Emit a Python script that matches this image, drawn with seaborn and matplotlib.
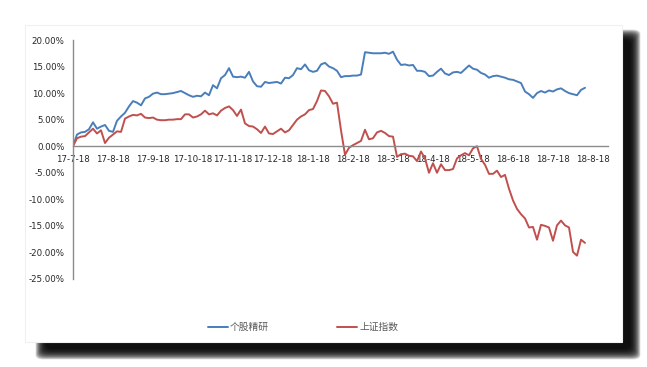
import matplotlib
matplotlib.use("Agg")
import matplotlib.pyplot as plt
from matplotlib.patches import Rectangle, FancyBboxPatch
from matplotlib.ticker import FuncFormatter
import seaborn as sns
import pandas as pd

# 个股精研 (%), one value every ~2 trading days
gegu = [0.0, 2.2, 2.6, 2.7, 3.2, 4.5, 3.3, 3.7, 4.0, 2.9, 2.7, 4.8, 5.6, 6.3, 7.5, 8.5,
        8.2, 7.7, 9.0, 9.3, 9.9, 10.1, 9.8, 9.8, 9.9, 10.0, 10.2, 10.4, 10.0, 9.6, 9.3, 9.5,
        9.4, 10.1, 9.6, 11.5, 10.9, 12.8, 13.4, 14.7, 13.1, 13.0, 13.1, 12.9, 14.0, 12.2, 11.3, 11.2,
        12.1, 11.9, 12.0, 12.1, 11.8, 12.9, 12.8, 13.4, 14.7, 14.5, 15.4, 14.3, 14.0, 14.2, 15.4, 15.7,
        15.0, 14.7, 14.2, 13.0, 13.2, 13.2, 13.3, 13.3, 13.5, 17.7, 17.6, 17.5, 17.5, 17.5, 17.6, 17.4,
        17.8, 16.3, 15.3, 15.4, 15.2, 15.3, 14.2, 14.2, 14.0, 13.2, 13.3, 14.0, 14.6, 13.7, 13.4, 13.9,
        14.0, 13.8, 14.5, 15.2, 14.6, 14.4, 13.8, 13.5, 12.9, 13.2, 13.3, 13.1, 12.9, 12.6, 12.5, 12.2,
        11.9, 10.3, 9.8, 9.1, 10.0, 10.4, 10.1, 10.5, 10.3, 10.7, 10.9, 10.4, 10.0, 9.8, 9.6, 10.6,
        11.0]

# 上证指数 (%)
shangzheng = [0.0, 1.5, 1.8, 1.9, 2.6, 3.3, 2.4, 3.0, 0.6, 1.6, 2.2, 2.8, 2.7, 5.2, 5.6, 5.9,
              5.8, 6.1, 5.4, 5.3, 5.4, 5.0, 4.9, 4.9, 5.0, 5.0, 5.1, 5.1, 6.0, 6.0, 5.4, 5.6,
              6.0, 6.7, 6.0, 6.2, 5.8, 6.7, 7.2, 7.5, 6.8, 5.7, 6.9, 4.3, 3.8, 3.7, 3.2, 2.5,
              3.7, 2.4, 2.3, 2.8, 3.3, 2.6, 3.0, 4.0, 5.0, 5.6, 6.0, 6.8, 7.0, 8.5, 10.5, 10.4,
              9.4, 8.0, 8.2, 3.0, -1.6, -0.3, 0.2, 0.6, 1.0, 3.1, 1.3, 1.5, 2.6, 2.9, 2.5, 1.9,
              1.8, -2.0, -1.5, -1.4, -1.8, -1.9, -2.8, -1.0, -2.3, -5.0, -3.2, -5.0, -3.4, -4.5, -4.5, -4.3,
              -2.3, -1.7, -1.3, -1.7, -0.4, 0.0, -2.4, -3.5, -5.2, -5.2, -4.6, -5.8, -5.4, -8.0, -10.2, -11.8,
              -12.8, -13.6, -15.3, -15.2, -17.6, -14.8, -15.0, -15.3, -17.8, -14.9, -14.0, -14.9, -15.3, -19.9, -20.6, -17.6,
              -18.2]

month_labels = ['17-7-18', '17-8-18', '17-9-18', '17-10-18', '17-11-18', '17-12-18', '18-1-18',
                '18-2-18', '18-3-18', '18-4-18', '18-5-18', '18-6-18', '18-7-18', '18-8-18']
points_per_month = 10

df = pd.DataFrame({'idx': range(len(gegu)), '个股精研': gegu, '上证指数': shangzheng})
long_df = df.melt(id_vars='idx', var_name='series', value_name='value')

sns.set_style('white')
plt.rcParams['font.family'] = ['DejaVu Sans', 'Noto Sans CJK SC']

W, H = 647, 367
fig = plt.figure(figsize=(W / 100, H / 100), dpi=100)
fig.patch.set_facecolor('white')

# blurred drop shadow, only showing on the right and bottom of the card
for k in range(20):
    g = k * 0.55
    x0, y0, x1, y1 = 46 - g, 40 - g, 630 + g, 349 + g
    fig.patches.append(FancyBboxPatch((x0 / W, 1 - y1 / H), (x1 - x0) / W, (y1 - y0) / H,
                                      boxstyle='round,pad=0,rounding_size=0.012',
                                      transform=fig.transFigure, facecolor='black',
                                      edgecolor='none', alpha=0.12, zorder=0))
fig.patches.append(Rectangle((25 / W, 1 - 342 / H), (622 - 25) / W, (342 - 25) / H,
                             transform=fig.transFigure, facecolor='white',
                             edgecolor='#f0f0f0', linewidth=0.8, zorder=1))

ax = fig.add_axes([73 / W, 1 - 279 / H, (608 - 73) / W, (279 - 40) / H])
ax.set_facecolor('none')
ax.set_zorder(2)

sns.lineplot(data=long_df, x='idx', y='value', hue='series',
             palette={'个股精研': '#4a7ebb', '上证指数': '#c0504d'},
             linewidth=1.4, ax=ax)

ax.set_xlim(0, (608 - 73) / 4)
ax.set_ylim(-25, 20)
ax.set_yticks(range(-25, 21, 5))
ax.yaxis.set_major_formatter(FuncFormatter(lambda v, p: f'{v:.2f}%'))
ax.set_xticks(range(0, points_per_month * len(month_labels), points_per_month))
ax.set_xticklabels(month_labels)
ax.set_xlabel('')
ax.set_ylabel('')

for s in ['top', 'right']:
    ax.spines[s].set_visible(False)
ax.spines['left'].set_color('#8c8c8c')
ax.spines['left'].set_linewidth(1.0)
ax.spines['bottom'].set_position(('data', 0))
ax.spines['bottom'].set_color('#8c8c8c')
ax.spines['bottom'].set_linewidth(1.0)
ax.tick_params(axis='both', length=0, labelsize=6.2, colors='#262626')
ax.tick_params(axis='y', pad=6)
ax.tick_params(axis='x', pad=6)

handles, labels = ax.get_legend_handles_labels()
ax.legend(handles, labels, loc='center', bbox_to_anchor=(303 / W, 1 - 327 / H),
          bbox_transform=fig.transFigure, ncol=2, frameon=False, fontsize=7,
          handlelength=2.1, handletextpad=0.2, columnspacing=7.0, labelcolor='#595959')

fig.savefig('out.png', dpi=100, facecolor='white')
